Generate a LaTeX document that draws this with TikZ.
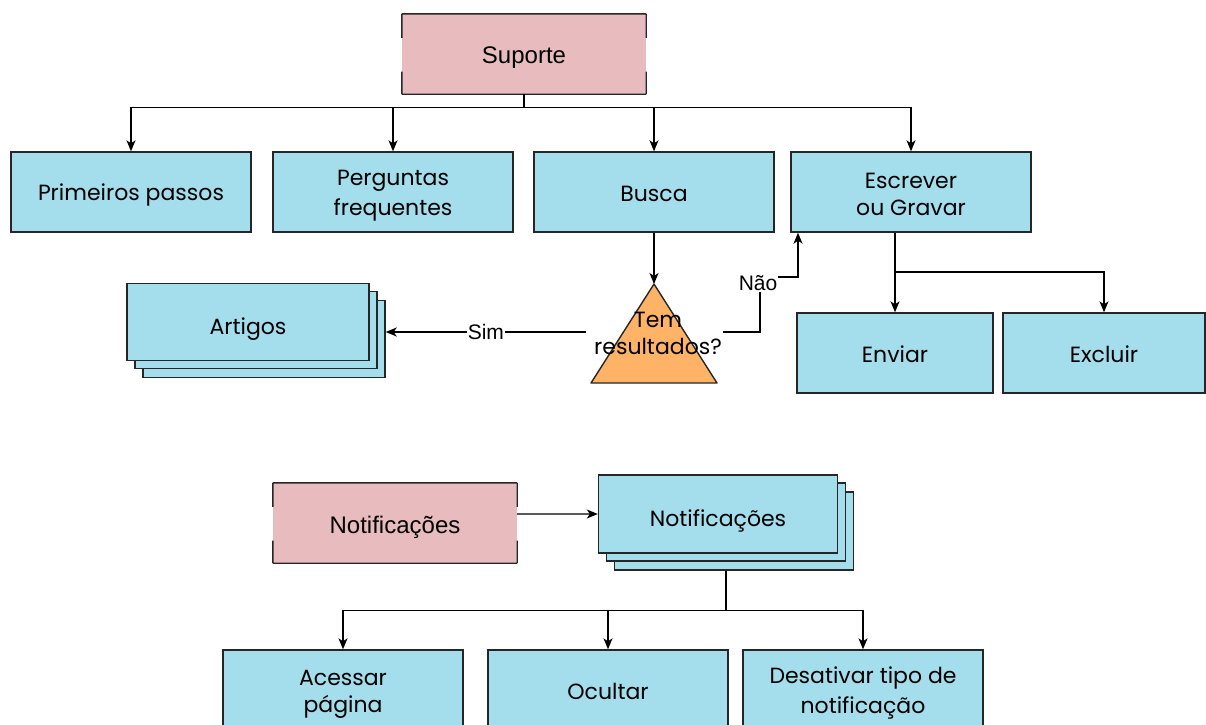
\documentclass[tikz,border=0pt]{standalone}
\usepackage{fontspec}
\setmainfont{Poppins}
\newfontfamily\helv{Liberation Sans}
\usetikzlibrary{arrows.meta,calc}
\definecolor{boxblue}{HTML}{A4DDEB}
\definecolor{boxpink}{HTML}{E8BCBE}
\definecolor{triorange}{HTML}{FFB366}
% uniform line strut so every box label sits at the same height
\newcommand{\bstrut}{\rule[-4pt]{0pt}{27pt}}
% taller strut for the labels on stacked boxes, which sit a little lower
\newcommand{\sstrut}{\rule[-4pt]{0pt}{35pt}}
\tikzset{
  blk/.style={draw=black!85, line width=1.4pt, fill=boxblue, minimum width=240pt,
    minimum height=80pt, inner sep=0pt, align=center,
    font=\fontsize{22}{27}\selectfont},
  pinkbox/.style={fill=boxpink, minimum width=244pt, minimum height=80pt,
    inner sep=0pt},
  pinktext/.style={font=\helv\fontsize{24}{28}\selectfont, inner sep=0pt},
  conn/.style={line width=1.3pt, black},
  arr/.style={conn, -{Stealth[length=11pt,width=9pt,inset=3pt]}},
  lbl/.style={fill=white, inner sep=1pt, font=\helv\fontsize{21}{24}\selectfont},
}
% pink boxes: full top and bottom edges, sides broken in the middle
\newcommand{\pinkedges}[1]{%
  \draw[line width=1.4pt, black!85]
    (#1.north west) -- (#1.north east)
    (#1.south west) -- (#1.south east)
    (#1.north west) -- ($(#1.north west)!0.3!(#1.south west)$)
    ($(#1.north west)!0.72!(#1.south west)$) -- (#1.south west)
    (#1.north east) -- ($(#1.north east)!0.3!(#1.south east)$)
    ($(#1.north east)!0.72!(#1.south east)$) -- (#1.south east);}
\begin{document}
\begin{tikzpicture}[x=1pt, y=-1pt]
\useasboundingbox (0,0) rectangle (1206,724);
\clip (0,0) rectangle (1206,724);

% --- Suporte tree ---
\node[pinkbox] (sup) at (524,54) {};
\pinkedges{sup}
\node[pinktext] (suptxt) at (524,58) {Suporte};

\node[blk] (prim) at (131,192) {\bstrut Primeiros passos};
\node[blk] (perg) at (393,192) {\bstrut Perguntas\\\bstrut frequentes};
\node[blk] (busca) at (654,192) {\bstrut Busca};
\node[blk] (esc) at (911,192) {\bstrut Escrever\\\bstrut ou Gravar};

\draw[conn] (sup.south) -- ++(0,13) coordinate (bus);
\draw[arr] (bus) -| (prim.north);
\draw[arr] (bus) -| (perg.north);
\draw[arr] (bus) -| (busca.north);
\draw[arr] (bus) -| (esc.north);

% decision triangle
\coordinate (triTop) at (654,284);
\coordinate (triL) at (586,332);
\coordinate (triR) at (723,332);
\filldraw[fill=triorange, draw=black!85, line width=1.4pt, line join=round]
  (triTop) -- (717,383) -- (591,383) -- cycle;
\node[align=center, font=\fontsize{22}{27}\selectfont] (tri) at (658,333) {Tem\\resultados?};
\draw[arr] (busca.south) -- (triTop);

% Artigos stack
\node[blk, minimum width=242pt, minimum height=77pt] (art3) at (264,339) {};
\node[blk, minimum width=242pt, minimum height=77pt] (art2) at (256,330) {};
\node[blk, minimum width=242pt, minimum height=77pt] (art) at (248,322) {\sstrut Artigos};
\draw[arr] (triL) -- node[lbl] (sim) {Sim} (art3.east |- triL);

% "Não" back to Escrever
\coordinate (nb1) at (760,332);
\coordinate (nb2) at (760,277);
\draw[arr] (triR) -- (nb1) -- (nb2) -- (798,277) -- (esc.south west -| 798,0);
\node[lbl] (nao) at (758,283) {Não};

% Enviar / Excluir
\node[blk, minimum width=196pt] (env) at (895,353) {\bstrut Enviar};
\node[blk, minimum width=202pt] (exc) at (1104,353) {\bstrut Excluir};
\draw[conn] (env.north |- esc.south) -- (env.north |- 0,272) coordinate (bus2);
\draw[arr] (bus2) -- (env.north);
\draw[arr] (bus2) -| (exc.north);

% --- Notificações tree ---
\node[pinkbox] (notp) at (395,523) {};
\pinkedges{notp}
\node[pinktext] (notptxt) at (395,527) {Notificações};

\node[blk, minimum width=239pt, minimum height=78pt] (nst3) at (734,531) {};
\node[blk, minimum width=239pt, minimum height=78pt] (nst2) at (726,522) {};
\node[blk, minimum width=239pt, minimum height=78pt] (nst) at (718,514) {\sstrut Notificações};

\draw[line width=1.3pt, black!65] (notp.east |- nst.west) -- ++(40,0) coordinate (mid);
\draw[arr, black!65, -{Stealth[length=11pt,width=9pt,inset=3pt,black]}] (mid) -- (nst.west);

\node[blk] (aces) at (343,690) {\bstrut Acessar\\\bstrut página};
\node[blk] (ocul) at (608,690) {\bstrut Ocultar};
\node[blk] (desat) at (863,690) {\bstrut Desativar tipo de\\\bstrut notificação};

\draw[conn] (nst2.south |- nst3.south) -- ++(0,40) coordinate (bus3);
\draw[arr] (bus3) -| (aces.north);
\draw[arr] (bus3) -| (ocul.north);
\draw[arr] (bus3) -| (desat.north);
\end{tikzpicture}
\end{document}
